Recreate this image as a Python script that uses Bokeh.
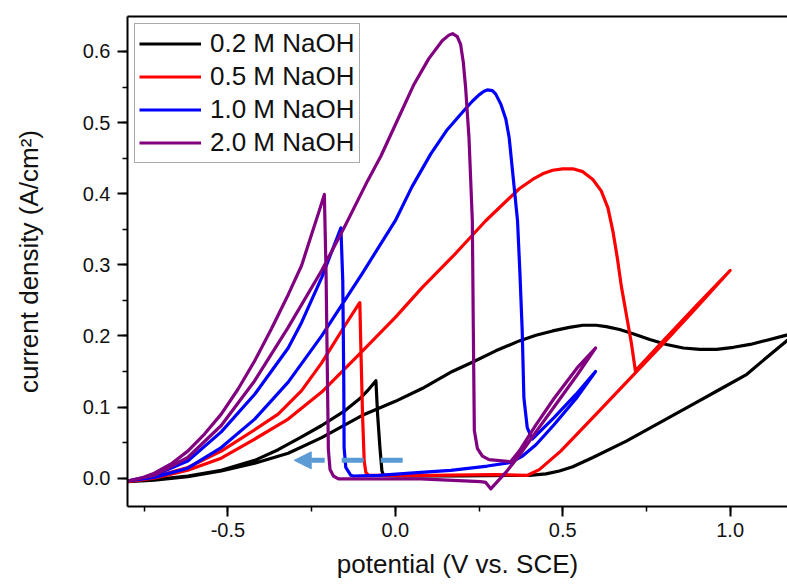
from bokeh.plotting import figure
from bokeh.models import (LinearAxis, SingleIntervalTicker, FixedTicker, NumeralTickFormatter,
                          Range1d, Arrow, NormalHead)
from bokeh.embed import file_html
from bokeh.resources import INLINE

FONT = "Liberation Sans"

# ---------------- data ----------------
series_labels = ["0.2 M NaOH", "0.5 M NaOH", "1.0 M NaOH", "2.0 M NaOH"]
series_colors = ["#000000", "#FF0000", "#0000FF", "#800080"]

# 0.2 M NaOH : forward scan then reverse scan
naoh02_x = [-0.80, -0.72, -0.62, -0.52, -0.42, -0.32, -0.22, -0.10, 0.00, 0.08, 0.17, 0.23,
            0.30, 0.37, 0.42, 0.47, 0.52, 0.56, 0.60, 0.63, 0.67, 0.71, 0.76, 0.81, 0.86, 0.91,
            0.96, 1.01, 1.06, 1.11, 1.20,
            1.11, 1.05, 0.97, 0.89, 0.79, 0.69, 0.59, 0.53, 0.49, 0.45, 0.40, 0.20, 0.00,
            -0.035, -0.040, -0.046, -0.053, -0.058, -0.083, -0.103, -0.15, -0.22, -0.28,
            -0.35, -0.42, -0.52, -0.62, -0.72, -0.80]
naoh02_y = [-0.005, -0.003, 0.002, 0.010, 0.021, 0.035, 0.057, 0.088, 0.108, 0.126, 0.150, 0.163,
            0.179, 0.193, 0.201, 0.207, 0.212, 0.215, 0.215, 0.213, 0.209, 0.203, 0.195, 0.188,
            0.183, 0.181, 0.181, 0.184, 0.188, 0.194, 0.205,
            0.170, 0.146, 0.125, 0.104, 0.078, 0.052, 0.029, 0.016, 0.010, 0.006, 0.004, 0.003, 0.003,
            0.004, 0.010, 0.043, 0.090, 0.137, 0.123, 0.113, 0.095, 0.074, 0.058,
            0.040, 0.025, 0.011, 0.003, -0.002, -0.005]

# 0.5 M NaOH
naoh05_x = [-0.80, -0.72, -0.62, -0.52, -0.42, -0.32, -0.22, -0.10, 0.00, 0.08, 0.17, 0.27,
            0.37, 0.41, 0.44, 0.47, 0.50, 0.53, 0.56, 0.59, 0.615, 0.635, 0.65, 0.663, 0.675,
            0.69, 0.705, 0.717,
            0.80, 0.90, 1.00,
            0.90, 0.80, 0.717, 0.60, 0.494, 0.43, 0.395, 0.30, 0.10, -0.08, -0.088, -0.093,
            -0.098, -0.103, -0.106, -0.15, -0.22, -0.28, -0.35, -0.42, -0.52, -0.62, -0.72, -0.80]
naoh05_y = [-0.005, 0.000, 0.011, 0.028, 0.055, 0.083, 0.121, 0.178, 0.226, 0.268, 0.311, 0.362,
            0.407, 0.420, 0.428, 0.433, 0.435, 0.435, 0.431, 0.420, 0.404, 0.380, 0.347, 0.310,
            0.270, 0.230, 0.190, 0.151,
            0.193, 0.243, 0.292,
            0.240, 0.189, 0.148, 0.090, 0.038, 0.012, 0.004, 0.005, 0.004, 0.004, 0.008, 0.024,
            0.090, 0.184, 0.247, 0.215, 0.162, 0.123, 0.090, 0.068, 0.038, 0.015, 0.002, -0.004]

# 1.0 M NaOH
naoh10_x = [-0.80, -0.72, -0.62, -0.52, -0.42, -0.32, -0.22, -0.10, 0.00, 0.05, 0.106, 0.155,
            0.205, 0.23, 0.25, 0.265, 0.275, 0.29, 0.30, 0.315, 0.33, 0.340, 0.355, 0.365, 0.372,
            0.379, 0.384, 0.394, 0.409,
            0.474, 0.54, 0.598,
            0.54, 0.474, 0.42, 0.38, 0.344, 0.275, 0.166, 0.076, -0.05, -0.125, -0.133, -0.148,
            -0.153, -0.154, -0.157, -0.1625, -0.22, -0.28, -0.32, -0.42, -0.52, -0.62, -0.72, -0.80]
naoh10_y = [-0.004, 0.001, 0.014, 0.043, 0.083, 0.135, 0.200, 0.287, 0.362, 0.410, 0.456, 0.490,
            0.517, 0.530, 0.539, 0.544, 0.546, 0.545, 0.540, 0.526, 0.505, 0.479, 0.409, 0.362,
            0.290, 0.207, 0.113, 0.071, 0.055,
            0.085, 0.118, 0.150,
            0.112, 0.075, 0.047, 0.031, 0.022, 0.017, 0.011, 0.008, 0.004, 0.003, 0.004, 0.015,
            0.043, 0.137, 0.277, 0.352, 0.282, 0.219, 0.183, 0.118, 0.065, 0.024, 0.004, -0.004]

# 2.0 M NaOH
naoh20_x = [-0.80, -0.72, -0.62, -0.52, -0.42, -0.32, -0.22, -0.15, -0.083, -0.043, 0.00, 0.056,
            0.10, 0.14, 0.16, 0.171, 0.185, 0.195, 0.203, 0.21, 0.22, 0.23, 0.233, 0.236, 0.245,
            0.26, 0.28, 0.344, 0.37, 0.42, 0.474, 0.543, 0.598,
            0.543, 0.474, 0.42, 0.374, 0.33, 0.285, 0.27, 0.255, 0.205, 0.076, -0.17, -0.185,
            -0.195, -0.200, -0.204, -0.207, -0.212, -0.23, -0.25, -0.28, -0.32, -0.37, -0.42,
            -0.47, -0.52, -0.57, -0.62, -0.67, -0.72, -0.76, -0.80]
naoh20_y = [-0.004, 0.004, 0.029, 0.074, 0.137, 0.212, 0.292, 0.355, 0.418, 0.453, 0.497, 0.554,
            0.590, 0.615, 0.623, 0.625, 0.621, 0.610, 0.585, 0.549, 0.479, 0.362, 0.207, 0.067,
            0.042, 0.031, 0.026, 0.023, 0.038, 0.075, 0.112, 0.155, 0.183,
            0.145, 0.100, 0.065, 0.034, 0.008, -0.015, -0.006, -0.005, -0.004, -0.001, -0.001, 0.003,
            0.012, 0.040, 0.184, 0.291, 0.399, 0.372, 0.343, 0.299, 0.258, 0.210, 0.165,
            0.125, 0.090, 0.062, 0.038, 0.020, 0.007, 0.000, -0.004]

series_x = [naoh02_x, naoh05_x, naoh10_x, naoh20_x]
series_y = [naoh02_y, naoh05_y, naoh10_y, naoh20_y]

# scan-direction arrow (start -> tip), in data units
arrow_x = [0.022, -0.302]
arrow_y = [0.025, 0.025]

x_limits = [-0.8, 1.1714]
y_limits = [-0.0399, 0.6492]

# ---------------- figure ----------------
p = figure(width=787, height=587, output_backend="svg", toolbar_location=None,
           x_range=Range1d(*x_limits), y_range=Range1d(*y_limits),
           min_border_left=127, min_border_right=0, min_border_top=16, min_border_bottom=81)
p.outline_line_color = None
p.grid.visible = False
p.background_fill_color = "white"
p.border_fill_color = "white"

for xs, ys, lab, col in zip(series_x, series_y, series_labels, series_colors):
    p.line(xs, ys, line_color=col, line_width=3.2, line_join="round", legend_label=lab)

p.add_layout(Arrow(x_start=arrow_x[0], y_start=arrow_y[0], x_end=arrow_x[1], y_end=arrow_y[1],
                   line_color="#5B9BD5", line_width=5, line_dash="22 17",
                   end=NormalHead(size=17, fill_color="#5B9BD5", line_color="#5B9BD5", line_width=1)))

# axes
xax = p.xaxis[0]
xax.ticker = SingleIntervalTicker(interval=0.5, num_minor_ticks=2)
xax.formatter = NumeralTickFormatter(format="0.0")
xax.axis_label = "potential (V vs. SCE)"
xax.major_label_standoff = 6
xax.axis_label_standoff = 9

yax = p.yaxis[0]
yax.ticker = SingleIntervalTicker(interval=0.1, num_minor_ticks=2)
yax.formatter = NumeralTickFormatter(format="0.0")
yax.axis_label = "current density (A/cm²)"
yax.major_label_standoff = 7
yax.axis_label_standoff = 36

for ax in (xax, yax):
    ax.axis_line_width = 2
    ax.axis_line_color = "black"
    ax.major_tick_in = 0
    ax.major_tick_out = 10
    ax.minor_tick_in = 0
    ax.minor_tick_out = 5
    ax.major_tick_line_width = 2
    ax.minor_tick_line_width = 1.5
    ax.major_tick_line_color = "black"
    ax.minor_tick_line_color = "black"
    ax.major_label_text_font = FONT
    ax.major_label_text_font_size = "20px"
    ax.major_label_text_color = "#111111"
    ax.axis_label_text_font = FONT
    ax.axis_label_text_font_size = "26px"
    ax.axis_label_text_font_style = "normal"
    ax.axis_label_text_color = "#111111"

# top frame line drawn as a bare axis (no right-hand border in the reference)
top = LinearAxis(ticker=FixedTicker(ticks=[]))
top.axis_line_width = 2
top.axis_line_color = "black"
top.major_tick_line_color = None
top.minor_tick_line_color = None
top.major_tick_in = 0
top.major_tick_out = 0
top.minor_tick_in = 0
top.minor_tick_out = 0
top.major_label_standoff = 0
p.add_layout(top, "above")

leg = p.legend[0]
leg.location = "top_left"
leg.margin = 7
leg.padding = 4
leg.spacing = 2
leg.glyph_width = 62
leg.glyph_height = 29
leg.label_height = 29
leg.label_standoff = 9
leg.label_text_font = FONT
leg.label_text_font_size = "26px"
leg.label_text_color = "#111111"
leg.border_line_color = "#555555"
leg.border_line_width = 1.5
leg.background_fill_alpha = 1.0

open("out.html", "w").write(file_html(p, INLINE))
